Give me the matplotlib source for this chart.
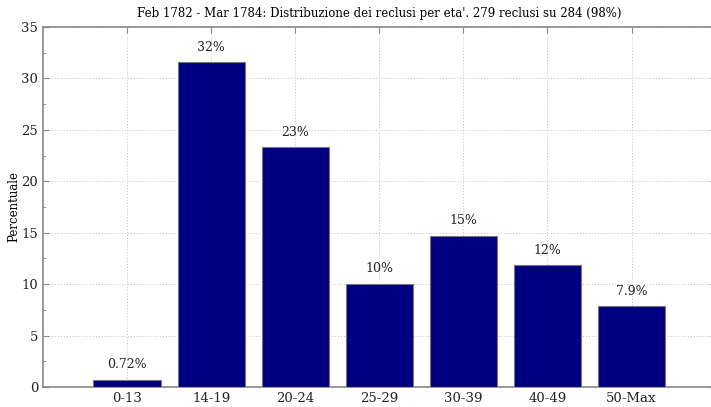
import numpy as np
import matplotlib.pyplot as plt
from matplotlib.ticker import MultipleLocator

# data
fasce = ['0-13', '14-19', '20-24', '25-29', '30-39', '40-49', '50-Max']
percentuali = [0.72, 31.54, 23.30, 10.04, 14.70, 11.83, 7.89]
etichette = ['0.72%', '32%', '23%', '10%', '15%', '12%', '7.9%']

plt.rcParams['font.family'] = ['DejaVu Serif']
plt.rcParams['font.size'] = 9

fig = plt.figure(figsize=(7.11, 4.07), dpi=100)
ax = fig.add_axes([0.0605, 0.049, 0.946, 0.885])

x = np.arange(1, len(fasce) + 1)
ax.bar(x, percentuali, width=0.8, color='#000080', edgecolor='#777777', linewidth=0.8, zorder=3)

for xi, v, t in zip(x, percentuali, etichette):
    ax.annotate(t, (xi, v), xytext=(0, 6), textcoords='offset points',
                ha='center', va='bottom', fontsize=9, color='#222222')

ax.set_xlim(0, 8)
ax.set_ylim(0, 35)
ax.set_xticks(x)
ax.set_xticklabels(fasce)
ax.yaxis.set_major_locator(MultipleLocator(5))
ax.yaxis.set_minor_locator(MultipleLocator(2.5))
ax.tick_params(direction='in', which='both', top=True, right=True, colors='#888888',
               labelcolor='#222222', length=4, labelsize=9.5)
ax.tick_params(which='minor', length=2.5)
ax.grid(True, which='major', linestyle=(0, (1, 2)), color='#c0c0c0', linewidth=0.7, zorder=0)
for s in ax.spines.values():
    s.set_color('#888888')
    s.set_linewidth(1.2)

ax.set_ylabel('Percentuale', fontsize=8.5, labelpad=1)
ax.set_title("Feb 1782 - Mar 1784: Distribuzione dei reclusi per eta'. 279 reclusi su 284 (98%)",
             fontsize=8.5, pad=7)

fig.savefig('out.png', dpi=100)
